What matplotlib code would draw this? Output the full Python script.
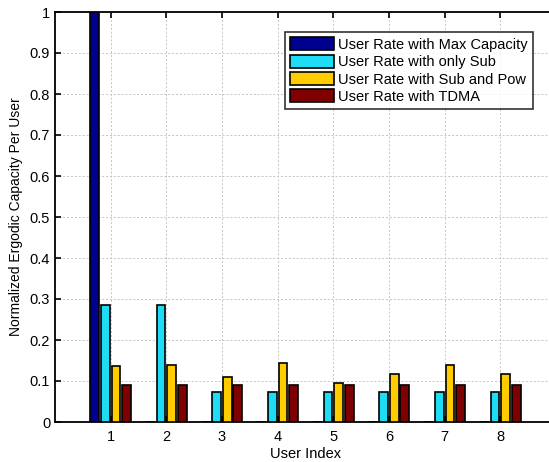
import numpy as np
import matplotlib.pyplot as plt

plt.rcParams['font.family'] = ['Liberation Sans', 'DejaVu Sans']

users = [1, 2, 3, 4, 5, 6, 7, 8]
max_cap = [1.0, 0, 0, 0, 0, 0, 0, 0]
only_sub = [0.285, 0.285, 0.072, 0.072, 0.072, 0.072, 0.072, 0.072]
sub_pow = [0.137, 0.138, 0.110, 0.145, 0.095, 0.118, 0.138, 0.118]
tdma = [0.090, 0.090, 0.090, 0.090, 0.090, 0.090, 0.090, 0.090]

series = [
    (max_cap, "User Rate with Max Capacity", "#00008f"),
    (only_sub, "User Rate with only Sub", "#1fdcf5"),
    (sub_pow, "User Rate with Sub and Pow", "#ffcc00"),
    (tdma, "User Rate with TDMA", "#7f0000"),
]

fig = plt.figure(figsize=(5.49, 4.62), dpi=100)
ax = fig.add_axes([55 / 549, 1 - 422 / 462, 501 / 549, 410 / 462])

x = np.array(users, dtype=float)
step = 0.19
width = 0.16
for i, (vals, label, col) in enumerate(series):
    ax.bar(x + (i - 1.5) * step, vals, width, color=col, edgecolor='black',
           linewidth=1.2, label=label, zorder=3)

ax.set_xlim(0, 9)
ax.set_ylim(0, 1)
ax.set_xticks(users)
ax.set_yticks(np.arange(0, 1.01, 0.1))
ax.set_yticklabels(["0", "0.1", "0.2", "0.3", "0.4", "0.5", "0.6", "0.7",
                    "0.8", "0.9", "1"])
ax.grid(True, linestyle=(0, (2, 2)), color='#c4c4c4', linewidth=0.7, zorder=0)
ax.tick_params(direction='in', top=True, right=True, labelsize=10.5,
               length=4, width=1.2, colors='black')
ax.tick_params(axis='x', pad=6)
for s in ax.spines.values():
    s.set_linewidth(1.3)
ax.set_xlabel("User Index", fontsize=10.5, labelpad=2)
ax.set_ylabel("Normalized Ergodic Capacity Per User", fontsize=10, labelpad=5)

leg = ax.legend(loc='upper left',
                bbox_to_anchor=((285 - 55) / 501, 1 - 20 / 410),
                fontsize=10.5, frameon=True, fancybox=False, edgecolor='black',
                handlelength=3.0, handleheight=1.0, handletextpad=0.3,
                labelspacing=0.2, borderpad=0.35, borderaxespad=0)
leg.get_frame().set_linewidth(1.2)

fig.savefig("out.png", dpi=100)
